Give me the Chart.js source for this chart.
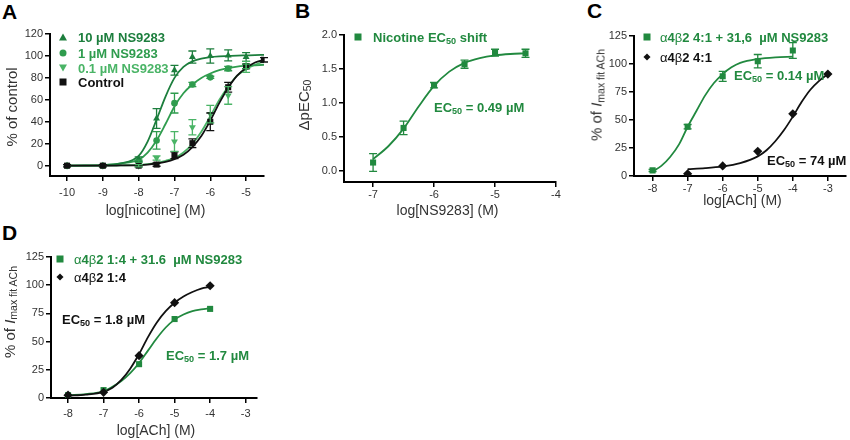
<!DOCTYPE html>
<html>
<head>
<meta charset="utf-8">
<script src="https://cdn.jsdelivr.net/npm/chart.js@4.4.1/dist/chart.umd.min.js"></script>
<style>
body { margin: 0; background: #fff; font-family: "Liberation Sans", Arial, sans-serif; }
#fig { position: relative; width: 850px; height: 440px; overflow: hidden; }
#fig canvas { position: absolute; }
.t { position: absolute; white-space: nowrap; transform: translateY(-50%); line-height: 1; }
.letter { font-weight: bold; font-size: 21px; color: #000; }
.leg { font-weight: bold; font-size: 13px; }
.yt { position: absolute; white-space: nowrap; transform: translate(-50%, -50%) rotate(-90deg); font-size: 15px; color: #333; line-height: 1; }
.xt { position: absolute; white-space: nowrap; transform: translate(-50%, -50%); font-size: 14px; color: #333; line-height: 1; }
.mk { position: absolute; }
sub { font-size: 70%; vertical-align: -0.25em; line-height: 0; }
.gr { font-weight: normal; }
</style>
</head>
<body>
<div id="fig"></div>
<script>
// ---- panel A: nicotine concentration-response (% of control)
const aCtrlX = [-10, -9, -8, -7.5, -7, -6.5, -6, -5.5, -5, -4.5];
const aCtrlY = [0, 0, 0, 1, 9.5, 20.5, 40, 71.5, 90.5, 96.5];
const aCtrlErr = [1, 1, 1, 1.5, 3, 4, 8, 4.5, 2, 2];
const aHiX = [-10, -9, -8, -7.5, -7, -6.5, -6, -5.5, -5];
const aHiY = [0, 0, 6, 43, 87, 99, 100, 100.5, 99];
const aHiErr = [0, 0, 2, 9, 4.5, 5.5, 6.5, 5, 4];
const aMidX = [-10, -9, -8, -7.5, -7, -6.5, -6, -5.5, -5];
const aMidY = [0, 0, 4, 23, 57, 74, 80.5, 88.5, 90.5];
const aMidErr = [0, 0, 1, 8, 9, 2, 1, 2, 2];
const aLoX = [-10, -9, -8, -7.5, -7, -6.5, -6, -5.5, -5];
const aLoY = [0, 0, 0, 7, 22, 35, 47, 64, 90];
const aLoErr = [0, 0, 1, 2, 9, 7, 8, 8, 5];

const aFitX = [-10, -9.5, -9, -8.5, -8, -7.75, -7.5, -7.25, -7, -6.75, -6.5, -6.25, -6, -5.75, -5.5, -5.25, -5, -4.75, -4.5];
const aFitCtrl = [0, 0, 0, 0.2, 0.5, 1, 2, 3.5, 6, 10, 17, 27, 41, 57, 71, 82, 89, 94, 96.5];
const aFitHi = [0, 0.2, 0.5, 2, 9, 22, 42, 63, 80, 90, 95, 97.5, 99, 99.7, 100, 100.3, 100.5, 100.7, 101];
const aFitMid = [0, 0.1, 0.5, 2, 5.5, 12, 23, 38, 54, 66, 74, 80, 84, 87, 89, 90.3, 91, 91.5, 92];
const aFitLo = [0, 0, 0, 0.3, 0.8, 1.5, 2.5, 4.5, 7, 12, 20, 31, 45, 60, 72, 82, 88, 92, 95];

// ---- panel B: nicotine EC50 shift vs NS9283
const bX = [-7, -6.5, -6, -5.5, -5, -4.5];
const bY = [0.12, 0.63, 1.26, 1.57, 1.74, 1.73];
const bErr = [0.13, 0.1, 0.04, 0.06, 0.05, 0.06];
const bFitX = [-7, -6.75, -6.5, -6.25, -6, -5.75, -5.5, -5.25, -5, -4.75, -4.5];
const bFitY = [0.17, 0.36, 0.62, 0.95, 1.25, 1.46, 1.59, 1.66, 1.70, 1.72, 1.73];

// ---- panel C: a4b2 4:1, ACh
const cX1 = [-8, -7, -6, -5, -4];
const cY1 = [5, 44, 89, 102.5, 112];
const cErr1 = [1, 2, 4.5, 6, 7];
const cX2 = [-7, -6, -5, -4, -3];
const cY2 = [2, 9, 22, 55.5, 91];
const cFitX1 = [-8, -7.75, -7.5, -7.25, -7, -6.75, -6.5, -6.25, -6, -5.75, -5.5, -5, -4.5, -4];
const cFitY1 = [4, 9, 17, 28, 44, 58, 72, 83, 91, 97, 101, 104.5, 106, 106.5];
const cFitX2 = [-7, -6.5, -6, -5.5, -5, -4.75, -4.5, -4.25, -4, -3.75, -3.5, -3.25, -3];
const cFitY2 = [6.2, 7, 8.5, 11.5, 17.5, 23, 31, 41, 53, 66, 77, 85, 91];

// ---- panel D: a4b2 1:4, ACh
const dX = [-8, -7, -6, -5, -4];
const dY1 = [2.5, 7, 30, 70, 79];
const dY2 = [2.5, 5, 37.5, 84.5, 99.5];
const dFitX = [-8, -7.5, -7, -6.75, -6.5, -6.25, -6, -5.75, -5.5, -5.25, -5, -4.75, -4.5, -4.25, -4];
const dFitY1 = [2.5, 3.5, 6, 10, 15, 22, 31, 42, 53, 62.5, 69.5, 74, 77, 78.5, 79.5];
const dFitY2 = [2, 3, 5.5, 9, 16, 26, 39, 54, 67, 77, 84.5, 90, 94, 97, 98.5];

const G_DARK = '#1c7e3d';
const G_MID = '#2f9c4e';
const G_LIGHT = '#4ab466';
const G = '#21893f';
const K = '#111111';
const FONT = '"Liberation Sans", Arial, sans-serif';

const fig = document.getElementById('fig');

function pts(xs, ys) {
    return xs.map((x, i) => ({ x: x, y: ys[i] }));
}

function markers(xs, ys, color, style, radius, err, rotation) {
    return {
        data: pts(xs, ys),
        err: err,
        pointStyle: style,
        rotation: rotation || 0,
        pointRadius: radius,
        backgroundColor: color,
        borderColor: color,
        borderWidth: 0,
        showLine: false
    };
}

function fit(xs, ys, color) {
    return {
        data: pts(xs, ys),
        showLine: true,
        borderColor: color,
        borderWidth: 1.8,
        pointRadius: 0,
        cubicInterpolationMode: 'monotone',
        fill: false
    };
}

const errorBars = {
    id: 'errorBars',
    afterDatasetsDraw(chart) {
        const ctx = chart.ctx;
        const xs = chart.scales.x, ys = chart.scales.y;
        chart.data.datasets.forEach(ds => {
            if (!ds.err) return;
            ctx.save();
            ctx.strokeStyle = ds.borderColor;
            ctx.lineWidth = 1.3;
            ds.data.forEach((p, j) => {
                const e = ds.err[j];
                if (!e) return;
                const px = xs.getPixelForValue(p.x);
                const y1 = ys.getPixelForValue(p.y + e);
                const y2 = ys.getPixelForValue(p.y - e);
                ctx.beginPath();
                ctx.moveTo(px, y1); ctx.lineTo(px, y2);
                ctx.moveTo(px - 4, y1); ctx.lineTo(px + 4, y1);
                ctx.moveTo(px - 4, y2); ctx.lineTo(px + 4, y2);
                ctx.stroke();
            });
            ctx.restore();
        });
    }
};

function axis(min, max, step, pad, fmt) {
    return {
        type: 'linear',
        min: min,
        max: max,
        ticks: {
            stepSize: step,
            includeBounds: false,
            autoSkip: false,
            padding: pad,
            color: '#333',
            font: { size: 11, family: FONT },
            callback: fmt || (v => String(v))
        },
        grid: { drawOnChartArea: false, drawTicks: true, tickLength: 5, color: '#000', lineWidth: 1.5 },
        border: { color: '#000', width: 2 }
    };
}

// plot rect in page pixels: l/r = x-axis ends, t = top of y axis, b = x-axis line
function panel(p) {
    const YW = 40, XH = 28, PT = 10, PR = p.pr;
    const w = Math.round(p.r - p.l + YW + PR), h = Math.round(p.b - p.t + PT + XH);
    const cv = document.createElement('canvas');
    cv.width = w; cv.height = h;
    cv.style.left = (p.l - YW) + 'px';
    cv.style.top = (p.t - PT) + 'px';
    fig.appendChild(cv);
    const xAx = axis(p.xmin, p.xmax, 1, p.xpad);
    xAx.afterFit = s => { s.height = XH; };
    const yAx = axis(p.ymin, p.ymax, p.ystep, 2, p.yfmt);
    yAx.afterFit = s => { s.width = YW; };
    new Chart(cv, {
        type: 'scatter',
        data: { datasets: p.datasets },
        options: {
            responsive: false,
            animation: false,
            layout: { padding: { top: PT, right: PR, left: 0, bottom: 0 } },
            plugins: { legend: { display: false }, tooltip: { enabled: false } },
            scales: { x: xAx, y: yAx }
        },
        plugins: [errorBars]
    });
}

panel({
    l: 50, r: 264, t: 34, b: 176, pr: 10, xpad: 5,
    xmin: -10.476, xmax: -4.5, ymin: -9.4, ymax: 120, ystep: 20,
    datasets: [
        markers(aCtrlX, aCtrlY, K, 'rect', 4.3, aCtrlErr),
        markers(aHiX, aHiY, G_DARK, 'triangle', 4, aHiErr),
        markers(aMidX, aMidY, G_MID, 'circle', 3.3, aMidErr),
        markers(aLoX, aLoY, G_LIGHT, 'triangle', 4, aLoErr, 180),
        fit(aFitX, aFitCtrl, K),
        fit(aFitX, aFitHi, G_DARK),
        fit(aFitX, aFitMid, G_MID),
        fit(aFitX, aFitLo, G_LIGHT)
    ]
});

panel({
    l: 344, r: 556, t: 35, b: 182, pr: 10, xpad: 1,
    xmin: -7.477, xmax: -4, ymin: -0.167, ymax: 2.0, ystep: 0.5,
    yfmt: v => v.toFixed(1),
    datasets: [
        markers(bX, bY, G, 'rect', 4.3, bErr),
        fit(bFitX, bFitY, G)
    ]
});

panel({
    l: 634, r: 850, t: 36, b: 176, pr: 0, xpad: 1,
    xmin: -8.53, xmax: -2.5, ymin: 0, ymax: 125, ystep: 25,
    datasets: [
        markers(cX1, cY1, G, 'rect', 4.3, cErr1),
        markers(cX2, cY2, K, 'rectRot', 4.6),
        fit(cFitX1, cFitY1, G),
        fit(cFitX2, cFitY2, K)
    ]
});

panel({
    l: 51, r: 257, t: 257, b: 398, pr: 10, xpad: 4,
    xmin: -8.48, xmax: -2.68, ymin: 0, ymax: 125, ystep: 25,
    datasets: [
        markers(dX, dY2, K, 'rectRot', 4.6),
        markers(dX, dY1, G, 'rect', 4.3),
        fit(dFitX, dFitY2, K),
        fit(dFitX, dFitY1, G)
    ]
});

// ---- text overlays
function text(cls, x, y, html, color) {
    const d = document.createElement('div');
    d.className = cls;
    d.style.left = x + 'px';
    d.style.top = y + 'px';
    if (color) d.style.color = color;
    d.innerHTML = html;
    fig.appendChild(d);
}

function mark(kind, x, y, color) {
    const d = document.createElement('div');
    d.className = 'mk';
    d.style.left = x + 'px';
    d.style.top = y + 'px';
    let tf = 'translate(-50%, -50%)';
    if (kind === 'square') {
        d.style.width = '7px'; d.style.height = '7px'; d.style.background = color;
    } else if (kind === 'circle') {
        d.style.width = '7px'; d.style.height = '7px'; d.style.background = color; d.style.borderRadius = '50%';
    } else if (kind === 'diamond') {
        d.style.width = '5px'; d.style.height = '5px'; d.style.background = color;
        tf += ' rotate(45deg)';
    } else if (kind === 'up' || kind === 'down') {
        d.style.width = '0'; d.style.height = '0';
        d.style.borderLeft = '4px solid transparent';
        d.style.borderRight = '4px solid transparent';
        d.style[kind === 'up' ? 'borderBottom' : 'borderTop'] = '7px solid ' + color;
    }
    d.style.transform = tf;
    fig.appendChild(d);
}

text('t letter', 2, 11, 'A');
text('t letter', 295, 10, 'B');
text('t letter', 587, 10, 'C');
text('t letter', 2, 232, 'D');

// A legend
mark('up', 63, 37.3, G_DARK);   text('t leg', 78, 37.3, '10 µM NS9283', G_DARK);
mark('circle', 63, 52.7, G_MID); text('t leg', 78, 52.7, '1 µM NS9283', G_MID);
mark('down', 63, 67.7, G_LIGHT); text('t leg', 78, 67.7, '0.1 µM NS9283', G_LIGHT);
mark('square', 63, 82, K);       text('t leg', 78, 82, 'Control', K);

// B legend and label
mark('square', 358, 37, G); text('t leg', 373, 37, 'Nicotine EC<sub>50</sub> shift', G);
text('t leg', 434, 107, 'EC<sub>50</sub> = 0.49 µM', G);

// C legend and labels
mark('square', 646.7, 37.3, G);
text('t leg', 660, 37.3, '<span class="gr">α</span>4<span class="gr">β</span>2 4:1 + 31,6 &nbsp;µM NS9283', G);
mark('diamond', 646.7, 56.7, K);
text('t leg', 660, 56.7, '<span class="gr">α</span>4<span class="gr">β</span>2 4:1', K);
text('t leg', 734, 75, 'EC<sub>50</sub> = 0.14 µM', G);
text('t leg', 767, 160, 'EC<sub>50</sub> = 74 µM', K);

// D legend and labels
mark('square', 60, 259.3, G);
text('t leg', 74, 259.3, '<span class="gr">α</span>4<span class="gr">β</span>2 1:4 + 31.6 &nbsp;µM NS9283', G);
mark('diamond', 60, 277.3, K);
text('t leg', 74, 277.3, '<span class="gr">α</span>4<span class="gr">β</span>2 1:4', K);
text('t leg', 62, 319, 'EC<sub>50</sub> = 1.8 µM', K);
text('t leg', 166, 355, 'EC<sub>50</sub> = 1.7 µM', G);

// axis titles
text('yt', 10.5, 107, '% of control');
text('xt', 155.5, 210, 'log[nicotine] (M)');
text('yt', 303, 105, 'ΔpEC<sub>50</sub>');
text('xt', 447.5, 210, 'log[NS9283] (M)');
text('yt', 596, 95, '% of <i>I</i><sub>max fit ACh</sub>');
text('xt', 742.5, 200, 'log[ACh] (M)');
text('yt', 9, 312, '% of <i>I</i><sub>max fit ACh</sub>');
text('xt', 156, 430, 'log[ACh] (M)');
</script>
</body>
</html>
